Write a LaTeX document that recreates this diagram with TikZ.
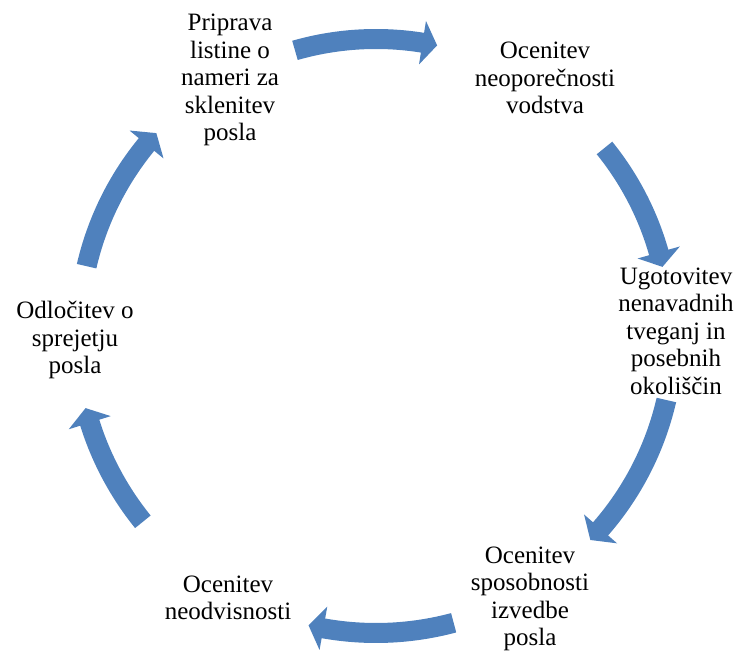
\documentclass[tikz,border=0pt]{standalone}
\usepackage{fontspec}
\setmainfont{Liberation Serif}
\definecolor{arrowblue}{RGB}{79,129,189}
\tikzset{
  lbl/.style={align=center, font=\fontsize{25}{27.5}\selectfont, inner sep=0pt},
  cyc/.style={fill=arrowblue, draw=none}
}
% #1 start angle, #2 head-base angle, #3 tip angle, #4 radius
\newcommand\cycarrow[4]{%
  \fill[cyc] (#1:{#4+10}) arc[start angle=#1, end angle=#2, radius={#4+10}]
    -- (#2:{#4+22}) -- (#3:#4) -- (#2:{#4-22}) -- (#2:{#4-10})
    arc[start angle=#2, end angle=#1, radius={#4-10}] -- cycle;}
\begin{document}
\begin{tikzpicture}[x=1pt,y=1pt]
\useasboundingbox (0,0) rectangle (736,652);
\node[lbl] (n1) at (230,572) {Priprava\\listine o\\nameri za\\sklenitev\\posla};
\node[lbl] (n2) at (545,574) {Ocenitev\\neopore\v{c}nosti\\vodstva};
\node[lbl] (n3) at (676,321) {Ugotovitev\\nenavadnih\\tveganj in\\posebnih\\okoli\v{s}\v{c}in};
\node[lbl] (n4) at (530,53) {Ocenitev\\sposobnosti\\izvedbe\\posla};
\node[lbl] (n5) at (228,54) {Ocenitev\\neodvisnosti};
\node[lbl] (n6) at (75,312) {Odlo\v{c}itev o\\sprejetju\\posla};
\begin{scope}[shift={(376,319)}]
\cycarrow{106}{80.9}{78}{294}
\cycarrow{39}{15.9}{13}{294}
\cycarrow{-13}{-41.1}{-44}{298}
\cycarrow{-75}{-100.1}{-103}{300}
\cycarrow{-141}{-162.6}{-165.5}{300}
\cycarrow{167}{140.6}{137.7}{297}
\end{scope}
\end{tikzpicture}
\end{document}
